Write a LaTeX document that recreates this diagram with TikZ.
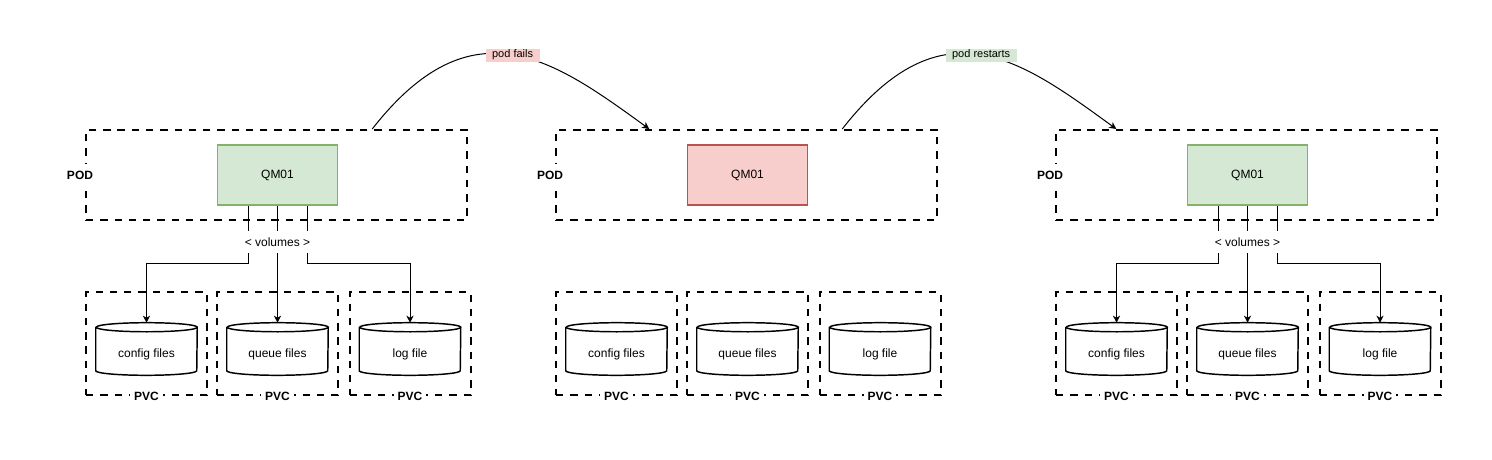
\documentclass[tikz,border=0pt]{standalone}
\usepackage{fontspec}
\setmainfont{Liberation Sans}
\usetikzlibrary{arrows.meta,calc}
\definecolor{gfill}{HTML}{D5E8D4}
\definecolor{gline}{HTML}{82B366}
\definecolor{rfill}{HTML}{F8CECC}
\definecolor{rline}{HTML}{B85450}
\begin{document}
\begin{tikzpicture}[x=0.75pt,y=-0.75pt,
  dashedbox/.style={draw, line width=1.5pt, dash pattern=on 5.5pt off 5.2pt, inner sep=0pt},
  podbox/.style={dashedbox, minimum width=285.75pt, minimum height=67.5pt},
  pvcbox/.style={dashedbox, minimum width=90.75pt, minimum height=77.25pt},
  qmbox/.style={draw, line width=1.2pt, minimum width=90pt, minimum height=45pt, inner sep=0pt, font=\fontsize{9}{11}\selectfont},
  qmok/.style={qmbox, fill=gfill, draw=gline},
  qmfail/.style={qmbox, fill=rfill, draw=rline},
  cyl/.style={minimum width=75.75pt, minimum height=24.75pt, inner sep=0pt, font=\fontsize{9}{11}\selectfont},
  cylline/.style={line width=1.1pt},
  tag/.style={fill=white, font=\bfseries\fontsize{9}{11}\selectfont, inner xsep=3pt, minimum height=16pt},
  vol/.style={fill=white, font=\fontsize{9}{11}\selectfont, minimum height=16.5pt, inner xsep=1pt},
  conn/.style={draw, line width=0.75pt, -{Stealth[length=5.25pt,width=5.25pt,inset=1.5pt]}},
  event/.style={font=\fontsize{8.25}{10}\selectfont, inner xsep=4.9pt, inner ysep=1pt, text height=6pt, text depth=1.8pt}
]
\useasboundingbox (0,0) rectangle (1492,460);

\foreach \g/\dx/\st in {1/0/qmok, 2/470/qmfail, 3/970/qmok} {
  \node[podbox] (pod\g) at (276.5+\dx,175) {};
  \node[tag] (podl\g) at (80+\dx,175) {POD};
  \node[\st] (qm\g) at (277.5+\dx,175) {QM01};
  \foreach \i/\cx/\ctext in {1/146.5/config files, 2/277.5/queue files, 3/410/log file} {
    \node[pvcbox] (pvc\g\i) at (\cx+\dx,343.5) {};
    \node[cyl] (cyl\g\i) at (\cx+\dx,354) {\ctext};
    \draw[cylline] ($(cyl\g\i.north west)+(0,-10)$) -- (cyl\g\i.south west)
      arc[start angle=180,end angle=360,x radius=37.875pt,y radius=3.4pt]
      -- ($(cyl\g\i.north east)+(0,-10)$)
      arc[start angle=0,end angle=360,x radius=37.875pt,y radius=3.4pt];
    \coordinate (top\g\i) at ($(cyl\g\i.north)+(0,-14.5)$);
    \node[tag] (pvcl\g\i) at (pvc\g\i.south) {PVC};
  }
}

\foreach \g in {1,3} {
  \draw[conn] ($(qm\g.south)+(-29.5,0)$) -- ++(0,58) -| (top\g1);
  \draw[conn] (qm\g.south) -- (top\g2);
  \draw[conn] ($(qm\g.south)+(29.5,0)$) -- ++(0,58) -| (top\g3);
  \node[vol] (vol\g) at ($(qm\g.south)+(0,36)$) {< volumes >};
}

\coordinate (s1) at ($(pod1.north west)!0.75!(pod1.north east)$);
\coordinate (e1) at ($(pod2.north west)!0.246!(pod2.north east)$);
\coordinate (s2) at ($(pod2.north west)!0.75!(pod2.north east)$);
\coordinate (e2) at ($(pod3.north west)!0.16!(pod3.north east)$);

\draw[conn] (s1) .. controls ($(s1)+(100,-128)$) and ($(e1)+(-95,-69)$) .. (e1)
  node[pos=0.5, event, fill=rfill] (fail) {pod fails};
\draw[conn] (s2) .. controls ($(s2)+(100,-128)$) and ($(e2)+(-95,-69)$) .. (e2)
  node[pos=0.5, event, fill=gfill] (restart) {pod restarts};
\end{tikzpicture}
\end{document}
